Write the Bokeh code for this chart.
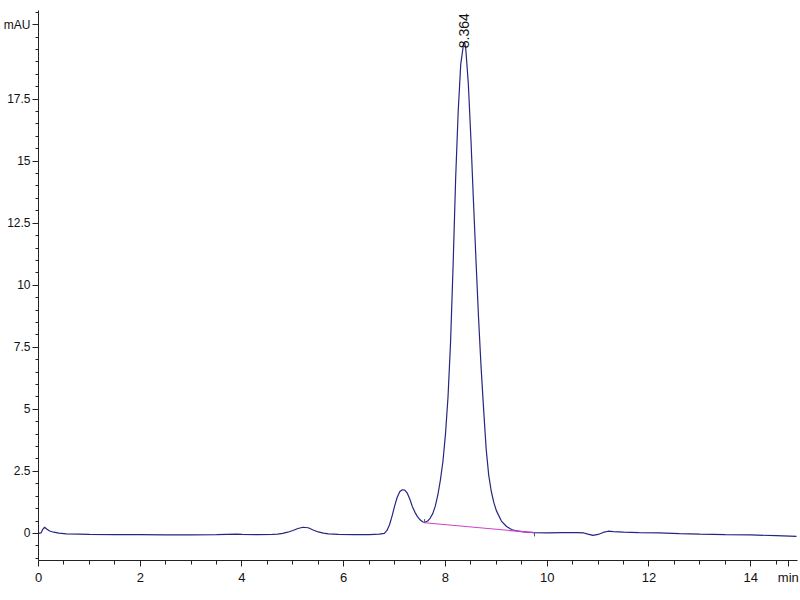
from bokeh.plotting import figure
from bokeh.models import (FixedTicker, NumeralTickFormatter, Range1d, ColumnDataSource)
from bokeh.embed import file_html
from bokeh.resources import INLINE

# ---- data ----
time = [0.00, 0.05, 0.08, 0.12, 0.16, 0.22, 0.30, 0.40, 0.55, 0.80, 1.00, 1.50,
        2.00, 2.50, 3.00, 3.50, 3.90, 4.00, 4.30, 4.60, 4.70, 4.80, 4.90, 5.00,
        5.10, 5.20, 5.30, 5.40, 5.50, 5.60, 5.70, 5.90, 6.20, 6.50, 6.70, 6.80,
        6.85, 6.90, 6.95, 7.00, 7.05, 7.10, 7.15, 7.20, 7.25, 7.30, 7.35, 7.40,
        7.45, 7.50, 7.55, 7.59, 7.65, 7.70, 7.75, 7.80, 7.85, 7.90, 7.95, 8.00,
        8.05, 8.10, 8.15, 8.20, 8.25, 8.30, 8.35, 8.365, 8.38, 8.40, 8.45, 8.50,
        8.55, 8.60, 8.65, 8.70, 8.75, 8.80, 8.85, 8.90, 8.95, 9.00, 9.10, 9.20,
        9.30, 9.40, 9.50, 9.60, 9.75, 10.0, 10.3, 10.6, 10.72, 10.8, 10.9, 11.0,
        11.1, 11.2, 11.3, 11.5, 11.8, 12.2, 12.6, 13.0, 13.5, 14.0, 14.5, 14.9]
signal = [0.00, 0.02, 0.15, 0.25, 0.18, 0.10, 0.05, 0.01, -0.02, -0.03, -0.04, -0.05,
          -0.05, -0.06, -0.06, -0.05, -0.03, -0.04, -0.05, -0.04, -0.03, 0.00, 0.05, 0.12,
          0.20, 0.25, 0.23, 0.14, 0.06, 0.01, -0.02, -0.04, -0.05, -0.05, -0.03, 0.00,
          0.12, 0.35, 0.70, 1.10, 1.45, 1.68, 1.76, 1.75, 1.62, 1.38, 1.08, 0.85,
          0.68, 0.55, 0.47, 0.44, 0.50, 0.62, 0.80, 1.10, 1.55, 2.15, 2.90, 4.00,
          5.50, 7.70, 10.8, 14.3, 17.0, 18.9, 19.65, 19.80, 19.75, 19.50, 18.10, 15.90,
          13.40, 11.00, 8.70, 6.70, 5.00, 3.40, 2.35, 1.70, 1.25, 0.92, 0.50, 0.28,
          0.16, 0.10, 0.07, 0.05, 0.03, 0.02, 0.03, 0.03, 0.02, -0.03, -0.08, -0.04,
          0.04, 0.09, 0.07, 0.05, 0.03, 0.02, -0.01, -0.03, -0.05, -0.06, -0.09, -0.12]

base_t = [7.59, 9.75]
base_y = [0.43, 0.03]

peak_time = 8.364
peak_height = 19.55
peak_text = "8.364"

x_label = "min"
y_label = "mAU"

x_major = [0, 2, 4, 6, 8, 10, 12, 14]
x_label_pos = 14.74
x_minor = [v / 2 for v in range(0, 30) if v % 4 != 0]
y_major = [0, 2.5, 5, 7.5, 10, 12.5, 15, 17.5, 20.5]
y_minor = [v / 2 for v in range(-2, 43) if v not in (0, 5, 10, 15, 20, 25, 30, 35, 41)]

FONT = "Liberation Sans"

p = figure(width=800, height=600, output_backend="svg", toolbar_location=None,
           x_range=Range1d(0, 14.92), y_range=Range1d(-1.09, 21.07),
           min_border_left=37, min_border_right=3, min_border_top=10,
           min_border_bottom=40)
p.outline_line_color = None
p.xgrid.visible = False
p.ygrid.visible = False
p.background_fill_color = "white"
p.border_fill_color = "white"

src = ColumnDataSource(dict(t=time, s=signal))
p.line("t", "s", source=src, line_color="#26267f", line_width=1.2)

p.line(base_t, base_y, line_color="#d040d0", line_width=1.2)
# integration marks at baseline ends
p.segment(x0=[base_t[0]], y0=[base_y[0]], x1=[base_t[0]], y1=[base_y[0] + 0.15],
          line_color="#555555", line_width=1)
p.segment(x0=[base_t[1]], y0=[base_y[1]], x1=[base_t[1]], y1=[base_y[1] - 0.15],
          line_color="#555555", line_width=1)

# peak label
p.text(x=[peak_time], y=[peak_height], text=[peak_text], angle=1.5708,
       text_align="left", text_baseline="middle", text_font_size="14px",
       text_font={"value": FONT}, text_color="#111111")

for ax in (p.xaxis[0], p.yaxis[0]):
    ax.axis_line_color = "#222222"
    ax.major_tick_line_color = "#222222"
    ax.minor_tick_line_color = "#222222"
    ax.major_tick_in = 0
    ax.minor_tick_in = 0
    ax.major_tick_out = 6
    ax.minor_tick_out = 3
    ax.major_label_text_font = FONT
    ax.major_label_text_font_size = "13px"
    ax.major_label_text_color = "#111111"
    ax.major_label_standoff = 3

p.yaxis.major_label_text_font_size = "12px"
p.yaxis.major_label_standoff = 2
p.yaxis.ticker = FixedTicker(ticks=y_major, minor_ticks=y_minor)
p.yaxis.formatter = NumeralTickFormatter(format="0.[0]")
p.yaxis.major_label_overrides = {20.5: y_label}

p.xaxis.minor_tick_out = 4
p.xaxis.formatter = NumeralTickFormatter(format="0")
p.xaxis.ticker = FixedTicker(ticks=x_major + [x_label_pos], minor_ticks=x_minor)
p.xaxis.major_label_overrides = {x_label_pos: x_label}

open("out.html", "w").write(file_html(p, INLINE))
